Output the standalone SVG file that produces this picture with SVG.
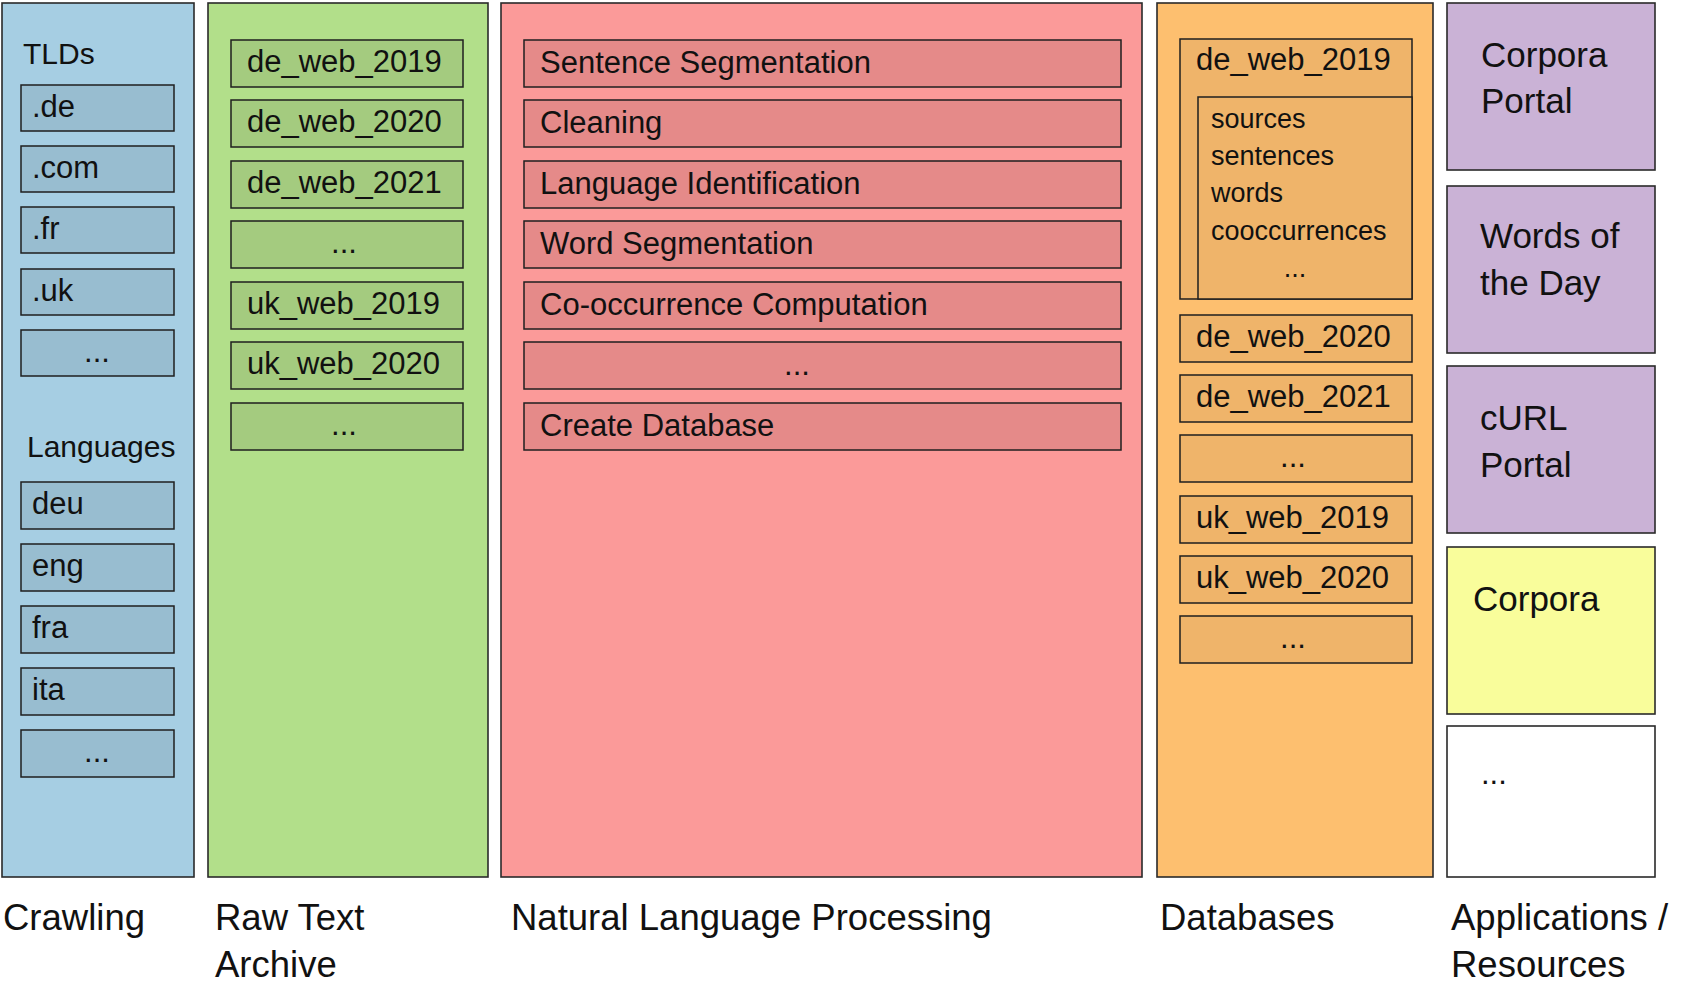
<svg xmlns="http://www.w3.org/2000/svg" width="1692" height="985" viewBox="0 0 1692 985">
<style>
text{font-family:"Liberation Sans",Arial,sans-serif;fill:#111}
.col{stroke:#2a2a2a;stroke-width:1.6}
.box{stroke:#1f1f1f;stroke-width:1.5}
.t{font-size:31px}
.h{font-size:30px}
.s{font-size:27px}
.a{font-size:35px}
.lab{font-size:36.5px}
.mid{text-anchor:middle}
.blue{fill:#a6cee3}.blueI{fill:#98bdd0}
.green{fill:#b2df8a}.greenI{fill:#a4cb7f}
.pink{fill:#fb9a99}.pinkI{fill:#e58a89}
.orange{fill:#fdbf6f}.orangeI{fill:#efb46a}
.purple{fill:#cab2d6}.yellow{fill:#f9fd9b}.white{fill:#ffffff}
</style>

<g id="crawling">
<rect class="col blue" x="2" y="3" width="192" height="874"/>
<text class="h" x="23" y="64">TLDs</text>
<g id="tld-de"><rect class="box blueI" x="21" y="85" width="153" height="46"/><text class="t" x="32" y="117">.de</text></g>
<g id="tld-com"><rect class="box blueI" x="21" y="146" width="153" height="46"/><text class="t" x="32" y="178">.com</text></g>
<g id="tld-fr"><rect class="box blueI" x="21" y="207" width="153" height="46"/><text class="t" x="32" y="239">.fr</text></g>
<g id="tld-uk"><rect class="box blueI" x="21" y="269" width="153" height="46"/><text class="t" x="32" y="301">.uk</text></g>
<g id="tld-more"><rect class="box blueI" x="21" y="330" width="153" height="46"/><text class="t mid" x="97" y="362">...</text></g>
<text class="h" x="27" y="457">Languages</text>
<g id="lang-deu"><rect class="box blueI" x="21" y="482" width="153" height="47"/><text class="t" x="32" y="514">deu</text></g>
<g id="lang-eng"><rect class="box blueI" x="21" y="544" width="153" height="47"/><text class="t" x="32" y="576">eng</text></g>
<g id="lang-fra"><rect class="box blueI" x="21" y="606" width="153" height="47"/><text class="t" x="32" y="638">fra</text></g>
<g id="lang-ita"><rect class="box blueI" x="21" y="668" width="153" height="47"/><text class="t" x="32" y="700">ita</text></g>
<g id="lang-more"><rect class="box blueI" x="21" y="730" width="153" height="47"/><text class="t mid" x="97" y="762">...</text></g>
</g>

<g id="raw-text-archive">
<rect class="col green" x="208" y="3" width="280" height="874"/>
<g id="raw-de2019"><rect class="box greenI" x="231" y="40" width="232" height="47"/><text class="t" x="247" y="72">de_web_2019</text></g>
<g id="raw-de2020"><rect class="box greenI" x="231" y="100" width="232" height="47"/><text class="t" x="247" y="132">de_web_2020</text></g>
<g id="raw-de2021"><rect class="box greenI" x="231" y="161" width="232" height="47"/><text class="t" x="247" y="193">de_web_2021</text></g>
<g id="raw-more1"><rect class="box greenI" x="231" y="221" width="232" height="47"/><text class="t mid" x="344" y="253">...</text></g>
<g id="raw-uk2019"><rect class="box greenI" x="231" y="282" width="232" height="47"/><text class="t" x="247" y="314">uk_web_2019</text></g>
<g id="raw-uk2020"><rect class="box greenI" x="231" y="342" width="232" height="47"/><text class="t" x="247" y="374">uk_web_2020</text></g>
<g id="raw-more2"><rect class="box greenI" x="231" y="403" width="232" height="47"/><text class="t mid" x="344" y="435">...</text></g>
</g>

<g id="nlp">
<rect class="col pink" x="501" y="3" width="641" height="874"/>
<g id="nlp-sent"><rect class="box pinkI" x="524" y="40" width="597" height="47"/><text class="t" x="540" y="73">Sentence Segmentation</text></g>
<g id="nlp-clean"><rect class="box pinkI" x="524" y="100" width="597" height="47"/><text class="t" x="540" y="133">Cleaning</text></g>
<g id="nlp-lang"><rect class="box pinkI" x="524" y="161" width="597" height="47"/><text class="t" x="540" y="194">Language Identification</text></g>
<g id="nlp-word"><rect class="box pinkI" x="524" y="221" width="597" height="47"/><text class="t" x="540" y="254">Word Segmentation</text></g>
<g id="nlp-cooc"><rect class="box pinkI" x="524" y="282" width="597" height="47"/><text class="t" x="540" y="315">Co-occurrence Computation</text></g>
<g id="nlp-more"><rect class="box pinkI" x="524" y="342" width="597" height="47"/><text class="t mid" x="797" y="375">...</text></g>
<g id="nlp-db"><rect class="box pinkI" x="524" y="403" width="597" height="47"/><text class="t" x="540" y="436">Create Database</text></g>
</g>

<g id="databases">
<rect class="col orange" x="1157" y="3" width="276" height="874"/>
<g id="db-de2019">
<rect class="box orangeI" x="1180" y="39" width="232" height="260"/>
<text class="t" x="1196" y="70">de_web_2019</text>
<rect class="box orangeI" x="1198" y="97" width="214" height="202"/>
<text class="s" x="1211" y="128">sources</text>
<text class="s" x="1211" y="165">sentences</text>
<text class="s" x="1211" y="202">words</text>
<text class="s" x="1211" y="240">cooccurrences</text>
<text class="s mid" x="1295" y="277">...</text>
</g>
<g id="db-de2020"><rect class="box orangeI" x="1180" y="315" width="232" height="47"/><text class="t" x="1196" y="347">de_web_2020</text></g>
<g id="db-de2021"><rect class="box orangeI" x="1180" y="375" width="232" height="47"/><text class="t" x="1196" y="407">de_web_2021</text></g>
<g id="db-more1"><rect class="box orangeI" x="1180" y="435" width="232" height="47"/><text class="t mid" x="1293" y="467">...</text></g>
<g id="db-uk2019"><rect class="box orangeI" x="1180" y="496" width="232" height="47"/><text class="t" x="1196" y="528">uk_web_2019</text></g>
<g id="db-uk2020"><rect class="box orangeI" x="1180" y="556" width="232" height="47"/><text class="t" x="1196" y="588">uk_web_2020</text></g>
<g id="db-more2"><rect class="box orangeI" x="1180" y="616" width="232" height="47"/><text class="t mid" x="1293" y="648">...</text></g>
</g>

<g id="applications">
<g id="app-corpora-portal"><rect class="col purple" x="1447" y="3" width="208" height="167"/><text class="a" x="1481" y="67">Corpora</text><text class="a" x="1481" y="113">Portal</text></g>
<g id="app-words-of-the-day"><rect class="col purple" x="1447" y="186" width="208" height="167"/><text class="a" x="1480" y="248">Words of</text><text class="a" x="1480" y="295">the Day</text></g>
<g id="app-curl-portal"><rect class="col purple" x="1447" y="366" width="208" height="167"/><text class="a" x="1480" y="430">cURL</text><text class="a" x="1480" y="477">Portal</text></g>
<g id="res-corpora"><rect class="col yellow" x="1447" y="547" width="208" height="167"/><text class="a" x="1473" y="611">Corpora</text></g>
<g id="res-more"><rect class="col white" x="1447" y="726" width="208" height="151"/><text class="t" x="1481" y="784">...</text></g>
</g>

<g id="labels">
<text class="lab" x="3" y="930">Crawling</text>
<text class="lab" x="215" y="930">Raw Text</text>
<text class="lab" x="215" y="977">Archive</text>
<text class="lab" x="511" y="930">Natural Language Processing</text>
<text class="lab" x="1160" y="930">Databases</text>
<text class="lab" x="1451" y="930">Applications /</text>
<text class="lab" x="1451" y="977">Resources</text>
</g>

<g id="connectors"></g>
</svg>
